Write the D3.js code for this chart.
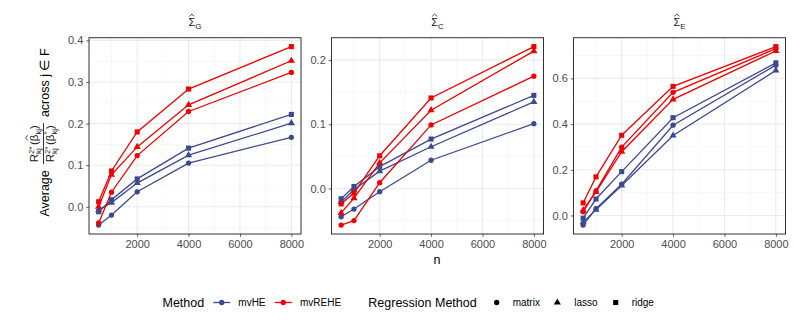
<!DOCTYPE html>
<html>
<head>
<meta charset="utf-8">
<script src="https://cdn.jsdelivr.net/npm/d3@7"></script>
<style>
  body { margin: 0; background: #fff; }
  text { font-family: "Liberation Sans", Arial, sans-serif; }
</style>
</head>
<body>
<div class="chart"></div>
<script>
// sample sizes on the x axis
const nValues = [500, 1000, 2000, 4000, 8000];
const methods = ['mvHE', 'mvREHE'];
const regMethods = ['matrix', 'lasso', 'ridge'];
const panelNames = ['G', 'C', 'E'];

// Sigma_G panel
const G_mvHE_matrix   = [-0.044, -0.020, 0.036, 0.105, 0.167];
const G_mvHE_lasso    = [-0.008, 0.010, 0.057, 0.124, 0.201];
const G_mvHE_ridge    = [-0.012, 0.017, 0.067, 0.141, 0.222];
const G_mvREHE_matrix = [-0.039, 0.035, 0.123, 0.229, 0.323];
const G_mvREHE_lasso  = [0.000, 0.077, 0.144, 0.245, 0.351];
const G_mvREHE_ridge  = [0.012, 0.086, 0.180, 0.283, 0.385];
// Sigma_C panel
const C_mvHE_matrix   = [-0.044, -0.032, -0.005, 0.044, 0.101];
const C_mvHE_lasso    = [-0.021, -0.002, 0.027, 0.065, 0.135];
const C_mvHE_ridge    = [-0.016, 0.003, 0.034, 0.077, 0.145];
const C_mvREHE_matrix = [-0.057, -0.050, 0.009, 0.099, 0.175];
const C_mvREHE_lasso  = [-0.038, -0.015, 0.040, 0.122, 0.214];
const C_mvREHE_ridge  = [-0.024, -0.007, 0.051, 0.141, 0.221];
// Sigma_E panel
const E_mvHE_matrix   = [-0.042, 0.030, 0.137, 0.395, 0.658];
const E_mvHE_lasso    = [-0.029, 0.025, 0.131, 0.350, 0.635];
const E_mvHE_ridge    = [-0.012, 0.072, 0.192, 0.428, 0.668];
const E_mvREHE_matrix = [0.016, 0.108, 0.299, 0.539, 0.730];
const E_mvREHE_lasso  = [0.023, 0.103, 0.279, 0.508, 0.720];
const E_mvREHE_ridge  = [0.055, 0.169, 0.351, 0.565, 0.739];

// tick labels
const xTicks = [2000, 4000, 6000, 8000];
const yTicksG = [0, 0.1, 0.2, 0.3, 0.4];
const yTicksC = [0, 0.1, 0.2];
const yTicksE = [0, 0.2, 0.4, 0.6];

const seriesTable = {
  G: {mvHE: {matrix: G_mvHE_matrix, lasso: G_mvHE_lasso, ridge: G_mvHE_ridge},
      mvREHE: {matrix: G_mvREHE_matrix, lasso: G_mvREHE_lasso, ridge: G_mvREHE_ridge}},
  C: {mvHE: {matrix: C_mvHE_matrix, lasso: C_mvHE_lasso, ridge: C_mvHE_ridge},
      mvREHE: {matrix: C_mvREHE_matrix, lasso: C_mvREHE_lasso, ridge: C_mvREHE_ridge}},
  E: {mvHE: {matrix: E_mvHE_matrix, lasso: E_mvHE_lasso, ridge: E_mvHE_ridge},
      mvREHE: {matrix: E_mvREHE_matrix, lasso: E_mvREHE_lasso, ridge: E_mvREHE_ridge}}
};
const yTickTable = {G: yTicksG, C: yTicksC, E: yTicksE};

const colors = {mvHE: '#3B4992', mvREHE: '#EE0000'};
const shapes = {matrix: d3.symbolCircle, lasso: d3.symbolTriangle, ridge: d3.symbolSquare};
const shapeSize = {matrix: 22, lasso: 22, ridge: 26};

const width = 793, height = 327;
const panelLefts = [89, 331.5, 573.5];
const panelW = 212, panelTop = 37.7, panelBottom = 234;

const svg = d3.select('.chart').append('svg')
  .attr('width', width).attr('height', height);

// small hat drawn as a path above a glyph
function hat(g, cx, top, w) {
  g.append('path')
    .attr('d', `M${cx - w / 2},${top + 2.2}L${cx},${top}L${cx + w / 2},${top + 2.2}`)
    .attr('fill', 'none').attr('stroke', '#1A1A1A').attr('stroke-width', 0.8);
}

// lay out a run of text pieces left to right, returns end x
// stack: piece sits at the same x as the previous one (super/subscript pair)
function textRun(g, x, y, pieces, dry) {
  let prevX = x;
  pieces.forEach(p => {
    const px = p.stack ? prevX : x;
    const t = g.append('text')
      .attr('x', px).attr('y', y + (p.dy || 0))
      .attr('font-size', p.size).attr('fill', p.fill || '#1A1A1A')
      .text(p.t);
    const w = t.node().getComputedTextLength();
    if (p.hat && !dry) hat(g, px + w / 2, y + (p.dy || 0) - p.size * 1.08, p.size * 0.45);
    if (p.stack) {
      x = Math.max(x, px + w) + (p.gap || 0);
    } else {
      prevX = px;
      x = px + w + (p.gap || 0);
    }
  });
  return x;
}
function runWidth(g, pieces) {
  const tmp = g.append('g').attr('opacity', 0);
  const w = textRun(tmp, 0, 0, pieces, true);
  tmp.remove();
  return w;
}

panelNames.forEach((name, i) => {
  const left = panelLefts[i];
  const series = seriesTable[name];
  const allVals = methods.flatMap(m => regMethods.flatMap(r => series[m][r]));
  const [lo, hi] = d3.extent(allVals);
  const pad = (hi - lo) * 0.05;

  const x = d3.scaleLinear().domain([125, 8375]).range([left, left + panelW]);
  const y = d3.scaleLinear().domain([lo - pad, hi + pad]).range([panelBottom, panelTop]);
  const yTicks = yTickTable[name];
  const step = yTicks[1] - yTicks[0];
  const minorY = d3.range(yTicks[0] - step / 2, hi + pad, step).filter(v => v > lo - pad);
  const minorX = [1000, 3000, 5000, 7000];

  const g = svg.append('g');
  // grid
  g.selectAll('.minx').data(minorX).enter().append('line')
    .attr('x1', d => x(d)).attr('x2', d => x(d)).attr('y1', panelTop).attr('y2', panelBottom)
    .attr('stroke', '#F2F2F2').attr('stroke-width', 0.6);
  g.selectAll('.miny').data(minorY).enter().append('line')
    .attr('x1', left).attr('x2', left + panelW).attr('y1', d => y(d)).attr('y2', d => y(d))
    .attr('stroke', '#F2F2F2').attr('stroke-width', 0.6);
  g.selectAll('.majx').data(xTicks).enter().append('line')
    .attr('x1', d => x(d)).attr('x2', d => x(d)).attr('y1', panelTop).attr('y2', panelBottom)
    .attr('stroke', '#EBEBEB').attr('stroke-width', 1.1);
  g.selectAll('.majy').data(yTicks).enter().append('line')
    .attr('x1', left).attr('x2', left + panelW).attr('y1', d => y(d)).attr('y2', d => y(d))
    .attr('stroke', '#EBEBEB').attr('stroke-width', 1.1);

  // axes
  const xAxis = g.append('g').attr('transform', `translate(0,${panelBottom})`)
    .call(d3.axisBottom(x).tickValues(xTicks).tickSize(2.75).tickPadding(3).tickFormat(d3.format('d')));
  const yAxis = g.append('g').attr('transform', `translate(${left},0)`)
    .call(d3.axisLeft(y).tickValues(yTicks).tickSize(2.75).tickPadding(3).tickFormat(d3.format('.1f')));
  [xAxis, yAxis].forEach(a => {
    a.select('.domain').remove();
    a.selectAll('line').attr('stroke', '#333333').attr('stroke-width', 0.8);
    a.selectAll('text').attr('fill', '#4D4D4D').attr('font-size', 11)
      .attr('font-family', '"Liberation Sans", Arial, sans-serif');
  });

  // lines and points
  const line = d3.line().x((d, k) => x(nValues[k])).y(d => y(d));
  methods.forEach(m => {
    regMethods.forEach(r => {
      g.append('path').datum(series[m][r])
        .attr('d', line).attr('fill', 'none')
        .attr('stroke', colors[m]).attr('stroke-width', 1.3);
    });
    regMethods.forEach(r => {
      g.selectAll(null).data(series[m][r]).enter().append('path')
        .attr('transform', (d, k) => `translate(${x(nValues[k])},${y(d)})`)
        .attr('d', d3.symbol().type(shapes[r]).size(shapeSize[r]))
        .attr('fill', colors[m]);
    });
  });

  // panel border
  g.append('rect').attr('x', left).attr('y', panelTop)
    .attr('width', panelW).attr('height', panelBottom - panelTop)
    .attr('fill', 'none').attr('stroke', '#333333').attr('stroke-width', 1);

  // panel title: Sigma hat with subscript
  const pieces = [{t: '\u03A3', size: 11, hat: true}, {t: name, size: 8, dy: 2.5}];
  const tw = runWidth(g, pieces);
  textRun(g, left + panelW / 2 - tw / 2, 26, pieces);
});

// x axis title
svg.append('text').attr('x', 437).attr('y', 263.5).attr('text-anchor', 'middle')
  .attr('font-size', 12.5).attr('fill', '#000').text('n');

// y axis title, rotated math label
const yl = svg.append('g').attr('transform', 'translate(42,132.5) rotate(-90)');
const avgP = [{t: 'Average', size: 12.5, fill: '#000'}];
const numP = [{t: 'R', size: 11.5}, {t: '2*', size: 7.8, dy: -4.5}, {t: 'kj', size: 7.8, dy: 2.5, stack: true, gap: 1.5},
  {t: '(', size: 11.5}, {t: '\u03B2', size: 11.5, hat: true}, {t: 'kj', size: 7.8, dy: 2.5}, {t: ')', size: 11.5}];
const denP = [{t: 'R', size: 11.5}, {t: '2*', size: 7.8, dy: -4.5}, {t: 'kj', size: 7.8, dy: 2.5, stack: true, gap: 1.5},
  {t: '(', size: 11.5}, {t: '\u03B2', size: 11.5}, {t: '*', size: 7.8, dy: -5.5}, {t: 'kj', size: 7.8, dy: 2.5, stack: true},
  {t: ')', size: 11.5}];
const acrP = [{t: 'across j \u2208 F', size: 12.5, fill: '#000'}];
const wA = runWidth(yl, avgP), wN = runWidth(yl, numP), wD = runWidth(yl, denP), wX = runWidth(yl, acrP);
const fracW = Math.max(wN, wD) + 4;
const gapF = 6;
const total = wA + gapF + fracW + gapF + wX;
let cx = -total / 2;
textRun(yl, cx, 6.5, avgP);
cx += wA + gapF;
textRun(yl, cx + (fracW - wN) / 2, -4, numP);
textRun(yl, cx + (fracW - wD) / 2, 12, denP);
yl.append('line').attr('x1', cx).attr('x2', cx + fracW).attr('y1', 1.5).attr('y2', 1.5)
  .attr('stroke', '#000').attr('stroke-width', 0.8);
cx += fracW + gapF;
textRun(yl, cx, 6.5, acrP);

// legends
const legY = 302.5;
const leg = svg.append('g');
leg.append('text').attr('x', 162.5).attr('y', legY + 4.3).attr('font-size', 12.5).text('Method');
const methodKeys = [{m: 'mvHE', x: 221.7, lx: 238.3}, {m: 'mvREHE', x: 283.3, lx: 300}];
methodKeys.forEach(k => {
  leg.append('line').attr('x1', k.x - 8.5).attr('x2', k.x + 8.5).attr('y1', legY).attr('y2', legY)
    .attr('stroke', colors[k.m]).attr('stroke-width', 1.3);
  leg.append('path').attr('transform', `translate(${k.x},${legY})`)
    .attr('d', d3.symbol().type(d3.symbolCircle).size(22)).attr('fill', colors[k.m]);
  leg.append('text').attr('x', k.lx).attr('y', legY + 3.6).attr('font-size', 10).text(k.m);
});
leg.append('text').attr('x', 368.3).attr('y', legY + 4.3).attr('font-size', 12.5).text('Regression Method');
const regKeys = [{r: 'matrix', x: 496.7, lx: 512.7}, {r: 'lasso', x: 557.3, lx: 574.3}, {r: 'ridge', x: 615.7, lx: 631.7}];
regKeys.forEach(k => {
  leg.append('path').attr('transform', `translate(${k.x},${legY})`)
    .attr('d', d3.symbol().type(shapes[k.r]).size(shapeSize[k.r])).attr('fill', '#000');
  leg.append('text').attr('x', k.lx).attr('y', legY + 3.6).attr('font-size', 10).text(k.r);
});
</script>
</body>
</html>
